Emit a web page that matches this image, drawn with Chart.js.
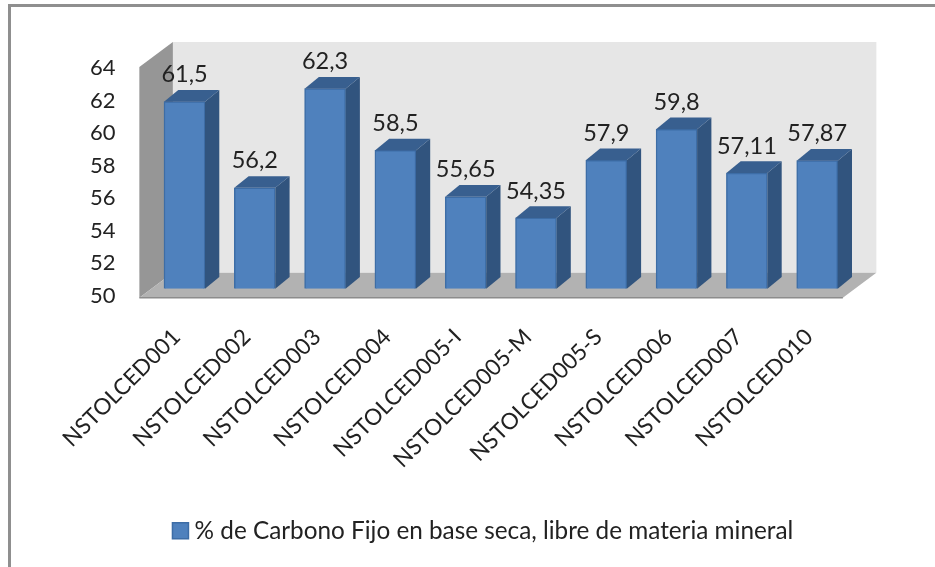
<!DOCTYPE html>
<html>
<head>
<meta charset="utf-8">
<title>Carbono Fijo</title>
<script src="https://cdn.jsdelivr.net/npm/chart.js@4"></script>
<style>
  html, body { margin: 0; background: #fff; overflow: hidden; }
  /* only the top and left edges of the outer frame are visible */
  #frame { position: absolute; left: 8px; top: 4px; width: 960px; height: 600px; border-left: 3px solid #8f8f8f; border-top: 3px solid #8f8f8f; }
  #chart { position: absolute; left: 40px; top: 0; }
</style>
</head>
<body>
<div id="frame"></div>
<canvas id="chart" width="884" height="567"></canvas>
<script>
const categories = ["NSTOLCED001", "NSTOLCED002", "NSTOLCED003", "NSTOLCED004", "NSTOLCED005-I",
  "NSTOLCED005-M", "NSTOLCED005-S", "NSTOLCED006", "NSTOLCED007", "NSTOLCED010"];
const carbonValues = [61.5, 56.2, 62.3, 58.5, 55.65, 54.35, 57.9, 59.8, 57.11, 57.87];
const seriesName = "% de Carbono Fijo en base seca, libre de materia mineral";
const axisMin = 50;
const axisMax = 64;
const axisStep = 2;

const FONT = "Lato, sans-serif";
const TEXT = "#222";

// depth of the bars and of the box behind them
const barDepth = { x: 14.3, y: 11.7 };
const boxDepth = { x: 33.5, y: 25 };

function poly(ctx, color, pts) {
  ctx.fillStyle = color;
  ctx.beginPath();
  pts.forEach((p, i) => i ? ctx.lineTo(p[0], p[1]) : ctx.moveTo(p[0], p[1]));
  ctx.closePath();
  ctx.fill();
}

const box3d = {
  id: "box3d",
  beforeDatasetsDraw(chart) {
    const { ctx, chartArea: a } = chart;
    // front plane of the box sits a little left of and below the plot area
    const l = a.left - 10, r = a.right - 9.5, b = a.bottom + 9, t = a.top + 6;
    const dx = boxDepth.x, dy = boxDepth.y;
    poly(ctx, "#e6e6e6", [[l + dx, t - dy], [r + dx, t - dy], [r + dx, b - dy], [l + dx, b - dy]]);
    poly(ctx, "#969696", [[l, t], [l + dx, t - dy], [l + dx, b - dy], [l, b]]);
    poly(ctx, "#b2b2b2", [[l, b], [l + dx, b - dy], [r + dx, b - dy], [r, b]]);
    ctx.strokeStyle = "#8c8c8c";
    ctx.lineWidth = 1.5;
    ctx.beginPath();
    ctx.moveTo(l, b);
    ctx.lineTo(r, b);
    ctx.stroke();
  },
  afterDatasetsDraw(chart) {
    const { ctx } = chart;
    const bars = chart.getDatasetMeta(0).data;
    const dx = barDepth.x, dy = barDepth.y;
    bars.forEach((bar, i) => {
      const { x, y, base, width } = bar.getProps(["x", "y", "base", "width"], true);
      const l = x - width / 2, r = x + width / 2;
      poly(ctx, "#31547e", [[r, y], [r + dx, y - dy], [r + dx, base - dy], [r, base]]);
      poly(ctx, "#385f8f", [[l, y], [l + dx, y - dy], [r + dx, y - dy], [r, y]]);
      ctx.fillStyle = TEXT;
      ctx.font = "23.5px " + FONT;
      ctx.textAlign = "center";
      ctx.textBaseline = "middle";
      ctx.fillText(String(carbonValues[i]).replace(".", ","), x, y - 27);
    });
  },
  afterDraw(chart) {
    // value axis labels line up with the front edge of the box
    const { ctx, scales: { y } } = chart;
    ctx.fillStyle = TEXT;
    ctx.font = "22px " + FONT;
    ctx.textAlign = "right";
    ctx.textBaseline = "middle";
    y.ticks.forEach(tick => {
      ctx.fillText(String(tick.value), 75.5, y.getPixelForValue(tick.value) + 7);
    });
  }
};

new Chart(document.getElementById("chart"), {
  type: "bar",
  data: {
    labels: categories,
    datasets: [{
      label: seriesName,
      data: carbonValues,
      base: axisMin,
      backgroundColor: "#4f81bd",
      borderColor: "#3d6da6",
      borderWidth: 1.5,
      barThickness: 41
    }]
  },
  options: {
    responsive: false,
    animation: false,
    layout: { padding: { left: 79.35, right: 71.65, top: 61, bottom: 14 } },
    plugins: {
      tooltip: { enabled: false },
      legend: {
        position: "bottom",
        labels: {
          usePointStyle: true,
          pointStyle: "rect",
          boxWidth: 4,
          boxHeight: 16,
          color: TEXT,
          padding: 5,
          font: { family: FONT, size: 24.3 }
        }
      }
    },
    scales: {
      x: {
        grid: { display: false, drawTicks: false },
        border: { display: false },
        afterFit(scale) {
          scale.height = 225;
          // rotated labels must not push the plot area in
          scale.paddingLeft = 0;
          scale.paddingRight = 0;
        },
        ticks: {
          autoSkip: false,
          minRotation: 45,
          maxRotation: 45,
          padding: 35,
          labelOffset: -8,
          color: TEXT,
          font: { family: FONT, size: 22.5 }
        }
      },
      y: {
        min: axisMin,
        max: axisMax,
        grid: { display: false, drawTicks: false },
        border: { display: false },
        afterFit(scale) { scale.width = 30; },
        ticks: { display: false, stepSize: axisStep }
      }
    }
  },
  plugins: [box3d]
});
</script>
</body>
</html>
